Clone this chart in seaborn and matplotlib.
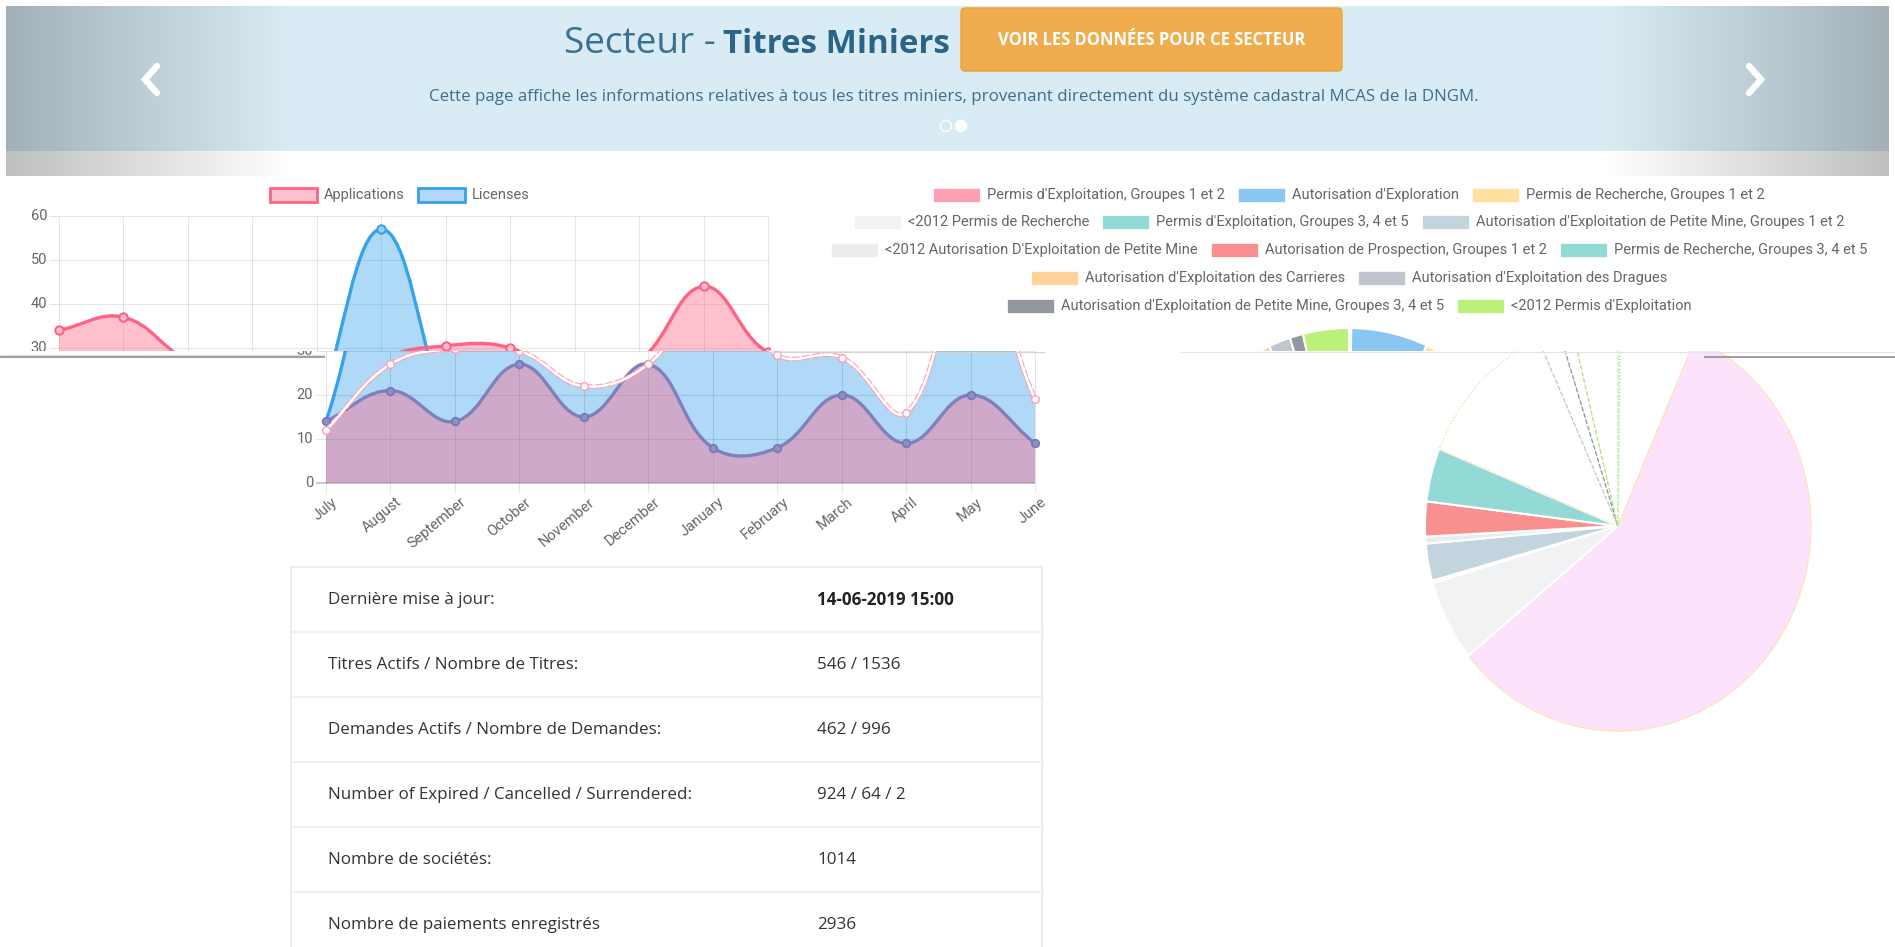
import numpy as np
import matplotlib
matplotlib.use('Agg')
import matplotlib.pyplot as plt
from matplotlib import font_manager
from matplotlib.path import Path
from matplotlib.patches import PathPatch, Rectangle, FancyBboxPatch, Circle
import seaborn as sns

W, H = 1895, 947

months = ['July', 'August', 'September', 'October', 'November', 'December',
          'January', 'February', 'March', 'April', 'May', 'June']
applications = [12, 27, 30.5, 30, 22, 27, 44, 29, 28.5, 16, 52, 19]
licenses = [14, 21, 14, 27, 15, 27, 8, 8, 20, 9, 20, 9]
# half-drawn frames that show up in the capture
applications_ghost = [34, 37, 27, 22]
licenses_ghost = [14, 57, 14]

title_types = [
    "Permis d'Exploitation, Groupes 1 et 2",
    "Autorisation d'Exploration",
    "Permis de Recherche, Groupes 1 et 2",
    "<2012 Permis de Recherche",
    "Permis d'Exploitation, Groupes 3, 4 et 5",
    "Autorisation d'Exploitation de Petite Mine, Groupes 1 et 2",
    "<2012 Autorisation D'Exploitation de Petite Mine",
    "Autorisation de Prospection, Groupes 1 et 2",
    "Permis de Recherche, Groupes 3, 4 et 5",
    "Autorisation d'Exploitation des Carrieres",
    "Autorisation d'Exploitation des Dragues",
    "Autorisation d'Exploitation de Petite Mine, Groupes 3, 4 et 5",
    "<2012 Permis d'Exploitation",
]
title_counts = [1, 35, 314, 35, 1, 16, 3, 15, 23, 66, 10, 6, 21]
title_colors = ['#ff9fb3', '#89c7f2', '#ffe19d', '#f1f2f4', '#93dad6', '#c2d5df',
                '#ececec', '#f99090', '#93dad6', '#ffd49b', '#c0c5d0', '#93979e', '#bdf07a']

table_labels = ['Dernière mise à jour:', 'Titres Actifs / Nombre de Titres:',
                'Demandes Actifs / Nombre de Demandes:',
                'Number of Expired / Cancelled / Surrendered:',
                'Nombre de sociétés:', 'Nombre de paiements enregistrés']
table_values = ['14-06-2019 15:00', '546 / 1536', '462 / 996', '924 / 64 / 2', '1014', '2936']

# ---- style ----
sns.set_style('white')
avail = {f.name for f in font_manager.fontManager.ttflist}


def pick(*names):
    for n in names:
        if n in avail:
            return n
    return 'DejaVu Sans'


PAGE_FONT = pick('Open Sans', 'Noto Sans')
CHART_FONT = pick('Liberation Sans Narrow', 'Roboto', 'Liberation Sans')
plt.rcParams['font.family'] = [PAGE_FONT, 'DejaVu Sans']

PINK, BLUE = '#ff6384', '#36a2eb'
PINK_FILL = (1.0, 99 / 255, 132 / 255, 0.4)
BLUE_FILL = (54 / 255, 162 / 255, 235 / 255, 0.4)
LIGHT_BLUE = '#afd9f7'
GRID = (0, 0, 0, 0.1)
TXT = '#666666'
SX, SY = 64.46, 4.4   # px per month, px per unit

fig = plt.figure(figsize=(W / 100, H / 100), dpi=100, facecolor='white')
R = fig.canvas.get_renderer()


def px_axes(x0, y0, x1, y1):
    ax = fig.add_axes([x0 / W, 1 - y1 / H, (x1 - x0) / W, (y1 - y0) / H])
    ax.set_axis_off()
    return ax


def fit_text(ax, x, y, s, width, **kw):
    t = ax.text(x, y, s, fontsize=20, **kw)
    w = t.get_window_extent(R).width
    t.set_fontsize(20 * width / w)
    return t


def text_width(ax, s, **kw):
    t = ax.text(0, 0, s, **kw)
    w = t.get_window_extent(R).width
    t.remove()
    return w


def bezier(ys, t=0.4):
    # chart.js style control points (tension 0.4), distances in pixel space
    xs = np.arange(len(ys), dtype=float)
    ys = np.asarray(ys, dtype=float)
    px, py = xs * SX, ys * SY
    n = len(xs)
    before, after = [], []
    for i in range(n):
        a, b = max(i - 1, 0), min(i + 1, n - 1)
        d01 = np.hypot(px[i] - px[a], py[i] - py[a])
        d12 = np.hypot(px[b] - px[i], py[b] - py[i])
        tot = d01 + d12
        fa = t * d01 / tot if tot else 0.0
        fb = t * d12 / tot if tot else 0.0
        before.append((xs[i] - fa * (xs[b] - xs[a]), ys[i] - fa * (ys[b] - ys[a])))
        after.append((xs[i] + fb * (xs[b] - xs[a]), ys[i] + fb * (ys[b] - ys[a])))
    verts, codes = [(xs[0], ys[0])], [Path.MOVETO]
    for i in range(n - 1):
        c1, c2 = after[i], before[i + 1]
        verts += [(c1[0], np.clip(c1[1], 0, 60)), (c2[0], np.clip(c2[1], 0, 60)),
                  (xs[i + 1], ys[i + 1])]
        codes += [Path.CURVE4] * 3
    return xs, verts, codes


def area(ax, ys, fill=None, line=None, lw=2.2, z=2, segs=None, ls='-'):
    xs, verts, codes = bezier(ys)
    if fill is not None:
        fv = verts + [(xs[-1], 0), (xs[0], 0), (xs[0], 0)]
        fc = codes + [Path.LINETO, Path.LINETO, Path.CLOSEPOLY]
        ax.add_patch(PathPatch(Path(fv, fc), facecolor=fill, edgecolor='none', zorder=z))
    if line is not None:
        k = len(verts) if segs is None else 1 + 3 * segs
        ax.add_patch(PathPatch(Path(verts[:k], codes[:k]), facecolor='none',
                               edgecolor=line, lw=lw, ls=ls, zorder=z + 0.5,
                               capstyle='round', joinstyle='round'))
    return xs


def dots(ax, xs, ys, face, edge, s=34, lw=1.2, z=6):
    sns.scatterplot(x=list(xs), y=list(ys), ax=ax, s=s, color=face,
                    edgecolor=edge, linewidth=lw, zorder=z, legend=False)


# ---- page background ----
bg = px_axes(0, 0, W, H)
bg.set_xlim(0, W)
bg.set_ylim(H, 0)

xg = np.arange(6, 1889)
tg = np.clip(np.minimum((xg - 6) / 285.0, (1889 - xg) / 282.0), 0, 1)
shade = 1 - 0.25 * (1 - tg)
mid = np.array([0.851, 0.925, 0.957])
banner = mid[None, :] * shade[:, None]
bg.imshow(banner[None, :, :], extent=(6, 1889, 151, 6), aspect='auto', zorder=0)
band = np.repeat(shade[:, None], 3, axis=1)
bg.imshow(band[None, :, :], extent=(6, 1889, 176, 151), aspect='auto', zorder=0)

fit_text(bg, 564, 53, 'Secteur -', 152, color='#3b7190', va='baseline',
         family=[PAGE_FONT, 'DejaVu Sans'])
fit_text(bg, 723, 53, 'Titres Miniers', 227, color='#2a6587', va='baseline',
         fontweight='bold', family=[PAGE_FONT, 'DejaVu Sans'])

bg.add_patch(FancyBboxPatch((961, 8), 381, 63, boxstyle='round,pad=0,rounding_size=4',
                            fc='#f0ad4e', ec='#eea236', lw=1, zorder=2))
fit_text(bg, 1152, 40, 'VOIR LES DONNÉES POUR CE SECTEUR', 307, color='white',
         fontweight='bold', ha='center', va='center', zorder=3)
fit_text(bg, 954, 97, 'Cette page affiche les informations relatives à tous les titres miniers, '
         'provenant directement du système cadastral MCAS de la DNGM.', 1046,
         color='#3a6f8f', ha='center', va='center')

bg.add_patch(Circle((946, 126), 5.5, fc='none', ec='white', lw=1.0, zorder=3))
bg.add_patch(Circle((961, 126), 6.2, fc='white', ec='white', lw=0, zorder=3))
bg.plot([157, 145, 157], [66, 79.5, 93], color='white', lw=4.6, solid_joinstyle='miter', zorder=3)
bg.plot([1749, 1761, 1749], [66, 79.5, 93], color='white', lw=4.6, solid_joinstyle='miter', zorder=3)

# ---- chart text size from the pie legend ----
chart_fs = 20 * 367 / text_width(bg, title_types[5], fontsize=20, family=CHART_FONT)
ckw = dict(fontsize=chart_fs, family=CHART_FONT, color=TXT)

# line chart legend
items = [('Applications', '#ffc1ce', PINK), ('Licenses', LIGHT_BLUE, BLUE)]
ws = [text_width(bg, s, **ckw) for s, _, _ in items]
total = sum(47 + 7 + w for w in ws) + 13
x = 400 - total / 2
for (s, fc, ec), w in zip(items, ws):
    bg.add_patch(Rectangle((x, 188), 47, 14, fc=fc, ec=ec, lw=2))
    bg.text(x + 54, 195, s, va='center', **ckw)
    x += 47 + 7 + w + 13

# pie legend
rows = [[0, 1, 2], [3, 4, 5], [6, 7, 8], [9, 10], [11, 12]]
row_y = [195, 222, 250, 278, 306]
for row, y in zip(rows, row_y):
    ws = [text_width(bg, title_types[i], **ckw) for i in row]
    total = sum(47 + 7 + w for w in ws) + 13 * (len(row) - 1)
    x = 1349 - total / 2
    for i, w in zip(row, ws):
        bg.add_patch(Rectangle((x, y - 7), 47, 14, fc=title_colors[i], ec='white', lw=0.5))
        bg.text(x + 54, y, title_types[i], va='center', **ckw)
        x += 47 + 7 + w + 13

# ---- table ----
bg.add_patch(Rectangle((291, 567), 751, 420, fill=False, ec='#e6e9ec', lw=1.2))
for k in range(1, 6):
    bg.hlines(567 + 65 * k, 291, 1042, color='#eceeef', lw=1.2)
tab_fs = 20 * 361 / text_width(bg, table_labels[3], fontsize=20)
for k, (lab, val) in enumerate(zip(table_labels, table_values)):
    yc = 567 + 32.5 + 65 * k
    bg.text(328, yc, lab, fontsize=tab_fs, color='#333333', va='center')
    bg.text(817, yc, val, fontsize=tab_fs, color='#222222' if k == 0 else '#333333',
            va='center', fontweight='bold' if k == 0 else 'normal')

# ---- line chart: upper-left fragment ----
top_ylim = (30 + (348 - 351) / SY, 30 + (348 - 176) / SY)
axA = px_axes(0, 176, 325, 351)
axA.hlines([30, 40, 50, 60], -10 / SX, 5, color=GRID, lw=0.8, zorder=1)
axA.vlines(range(0, 5), 29, 60, color=GRID, lw=0.8, zorder=1)
xs = area(axA, applications_ghost, fill=PINK_FILL, line=PINK, lw=2.4, z=3)
dots(axA, xs, applications_ghost, '#ffc1ce', PINK, s=36, lw=1.5)
for v in [30, 40, 50, 60]:
    axA.text(-12 / SX, v, str(v), ha='right', va='center', clip_on=True, **ckw)
axA.set_xlim((0 - 59) / SX, (325 - 59) / SX)
axA.set_ylim(*top_ylim)

# ---- line chart: upper-right fragment ----
axB = px_axes(325, 176, 770, 351)
axB.hlines([30, 40, 50, 60], 0, 7, color=GRID, lw=0.8, zorder=1)
axB.vlines(range(1, 8), 29, 60, color=GRID, lw=0.8, zorder=1)
xs = area(axB, licenses_ghost, fill=BLUE_FILL, line=BLUE, lw=2.4, z=2)
dots(axB, xs, licenses_ghost, '#9fd0f2', BLUE, s=36, lw=1.5, z=4)
xs = area(axB, applications, fill=PINK_FILL, line=PINK, lw=2.4, z=5)
dots(axB, xs, applications, '#ffc1ce', PINK, s=36, lw=1.5, z=7)
axB.set_xlim((325 - 317) / SX, (770 - 317) / SX)
axB.set_ylim(*top_ylim)

# ---- line chart: lower part ----
axL = px_axes(290, 351, 1045, 560)
area(axL, applications, fill=LIGHT_BLUE, z=1)
area(axL, licenses_ghost, fill=LIGHT_BLUE, z=1)
area(axL, licenses_ghost, line=BLUE, lw=2.4, z=1.2, segs=1)
axL.hlines([10, 20, 30], -10 / SX, 11, color=GRID, lw=0.8, zorder=2)
axL.hlines(0, -10 / SX, 11, color=(0, 0, 0, 0.25), lw=1.2, zorder=2)
axL.vlines(range(12), -10 / SY, 30, color=GRID, lw=0.8, zorder=2)
xs = area(axL, licenses, fill=PINK_FILL, line='#7f81bd', lw=2.4, z=3)
dots(axL, xs, licenses, '#8d90c8', '#7477b4', s=30, lw=1.2, z=5)
area(axL, applications, line='#ff9db2', lw=3.4, z=6, ls=(0, (1.2, 1.0)))
area(axL, applications, line='white', lw=1.8, z=6.5)
dots(axL, xs, applications, 'white', '#ff9db2', s=30, lw=1.0, z=8)
for v in [0, 10, 20, 30]:
    axL.text(-13 / SX, v, str(v), ha='right', va='center', clip_on=True, **ckw)
for i, m in enumerate(months):
    axL.text(i + 5 / SX, -12 / SY, m, rotation=40, ha='right', va='top',
             rotation_mode='anchor', **ckw)
axL.set_xlim((290 - 326) / SX, (1045 - 326) / SX)
axL.set_ylim((483 - 560) / SY, (483 - 351) / SY)


# ---- pies ----
def pie_axes(x0, y0, x1, y1, cx, cy, rx, ry):
    ax = px_axes(x0, y0, x1, y1)
    wedges, _ = ax.pie(title_counts, colors=title_colors, startangle=90, counterclock=False,
                       wedgeprops=dict(edgecolor='white', linewidth=1.5))
    for w in wedges:
        w.set_clip_on(True)
        w.set_clip_path(ax.patch)
    ax.set_aspect('auto')
    ax.set_xlim((x0 - cx) / rx, (x1 - cx) / rx)
    ax.set_ylim((cy - y1) / ry, (cy - y0) / ry)
    return wedges


pie_axes(1120, 176, 1580, 351, 1349, 533, 193, 205)

big = pie_axes(1380, 351, 1895, 947, 1618, 526, 193, 205)
outlined = {0: (None, '-'), 1: ('#89c7f2', ':'), 9: ('#ffd49b', ':'),
            10: ('#c0c5d0', '--'), 11: ('#93979e', '--'), 12: ('#bdf07a', '--')}
for i, w in enumerate(big):
    if i in outlined:
        ec, ls = outlined[i]
        w.set_facecolor('white')
        w.set_edgecolor(ec if ec else 'none')
        w.set_linestyle(ls)
        w.set_linewidth(0.9)
    elif i == 2:
        w.set_facecolor('#fde2fb')
        w.set_edgecolor('#ffe3bb')
        w.set_linewidth(0.9)

# ---- seams of the capture ----
ov = px_axes(0, 0, W, H)
ov.set_xlim(0, W)
ov.set_ylim(H, 0)
ov.hlines(354.5, 0, 325, color='#e2e2e2', lw=1.0)
ov.hlines(357, 0, 325, color='#8c8c8c', lw=1.2)
ov.hlines(351.5, 768, 1045, color='#d4d4d4', lw=0.8)
ov.hlines(351.5, 1180, 1895, color='#e4e4e4', lw=0.8)
ov.hlines(356.5, 1704, 1895, color='#8c8c8c', lw=1.2)

bg.set_xlim(0, W)
bg.set_ylim(H, 0)
fig.savefig('out.png', dpi=100, facecolor='white')
